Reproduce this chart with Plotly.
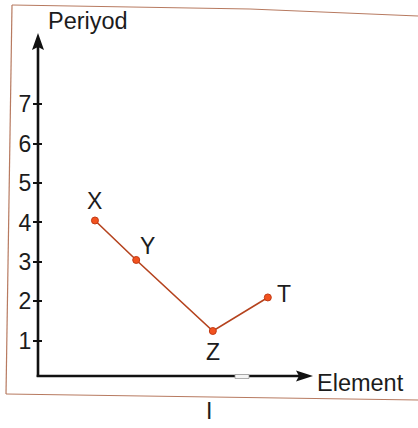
import plotly.graph_objects as go

# ---- data ----
elements = ["X", "Y", "Z", "T"]
element_pos = [1.45, 2.5, 4.45, 5.85]
periods = [4.05, 3.05, 1.25, 2.1]
period_ticks = [1, 2, 3, 4, 5, 6, 7]
label_offsets = [(0, 19), (11, 14), (0, -21), (16, 3)]

W, H = 418, 428
L, R, T, B = 38, 313, 33, 376  # plot area in px


def px(xp, yp):
    return (xp - L) / (R - L), (B - yp) / (B - T)


FONT = "Liberation Sans, Arial, sans-serif"
TXT = "#1c1c1c"

fig = go.Figure()
fig.add_trace(go.Scatter(
    x=element_pos, y=periods, mode="lines+markers",
    line=dict(color="#b5431e", width=1.6),
    marker=dict(size=7, color="#f2521f", line=dict(color="#c23a14", width=1)),
    hoverinfo="skip", showlegend=False,
))

annotations = []
for name, xv, yv, (dx, dy) in zip(elements, element_pos, periods, label_offsets):
    annotations.append(dict(x=xv, y=yv, xref="x", yref="y", text=name, showarrow=False,
                            xshift=dx, yshift=dy, font=dict(family=FONT, size=23, color=TXT)))

def ptxt(text, xp, yp, anchor="center", size=23.5):
    xx, yy = px(xp, yp)
    annotations.append(dict(x=xx, y=yy, xref="paper", yref="paper", text=text, showarrow=False,
                            xanchor=anchor, yanchor="middle",
                            font=dict(family=FONT, size=size, color=TXT)))

ptxt("Periyod", 46, 21, "left")
ptxt("Element", 315, 383, "left")
ptxt("I", 209, 411, size=23)

shapes = []

def line(x0, y0, x1, y1, color, width):
    a = px(x0, y0); b = px(x1, y1)
    shapes.append(dict(type="line", xref="paper", yref="paper", x0=a[0], y0=a[1], x1=b[0], y1=b[1],
                       line=dict(color=color, width=width)))

def poly(pts, fill, lc=None, lw=0):
    p = [px(*q) for q in pts]
    path = "M" + " L".join(f"{a:.5f},{b:.5f}" for a, b in p) + " Z"
    shapes.append(dict(type="path", xref="paper", yref="paper", path=path, fillcolor=fill,
                       line=dict(color=lc or fill, width=lw)))

# frame
border = "#b77a60"
line(12, 5, 250, 9, border, 1.2)
line(250, 9, 418, 16, border, 1.2)
line(12, 5, 6, 394, border, 1.2)
line(6, 394, 418, 400, border, 1.2)

# axes with arrow heads
AX = "#111111"
line(38, 377, 38, 46, AX, 2.6)
poly([(38, 33), (44, 50), (38, 47), (32, 50)], AX)
line(36.7, 376, 300, 376, AX, 2.6)
poly([(313, 376), (296, 370.5), (299, 376), (296, 381.5)], AX)
# small gap mark on x axis
shapes.append(dict(type="rect", xref="paper", yref="paper",
                   x0=px(235, 0)[0], x1=px(249, 0)[0], y0=px(0, 378.5)[1], y1=px(0, 374.5)[1],
                   fillcolor="#f4f4f4", line=dict(color="#9a9a9a", width=0.8)))

fig.update_layout(
    width=W, height=H,
    margin=dict(l=L, r=W - R, t=T, b=H - B),
    paper_bgcolor="white", plot_bgcolor="white",
    xaxis=dict(range=[0, 7], showgrid=False, zeroline=False, showline=False,
               showticklabels=False, ticks=""),
    yaxis=dict(range=[0.11, 8.8], showgrid=False, zeroline=False, showline=False,
               tickmode="array", tickvals=period_ticks, ticktext=[str(v) for v in period_ticks],
               ticks="outside", ticklen=4, tickwidth=1.8, tickcolor=AX, ticklabelstandoff=-3,
               tickfont=dict(family=FONT, size=23, color=TXT)),
    yaxis2=dict(range=[0.11, 8.8], overlaying="y", side="left", showgrid=False, zeroline=False,
                showline=False, tickmode="array", tickvals=period_ticks, showticklabels=False,
                ticks="inside", ticklen=4, tickwidth=1.8, tickcolor=AX),
    shapes=shapes, annotations=annotations,
)
fig.add_trace(go.Scatter(x=[None], y=[None], yaxis="y2", showlegend=False, hoverinfo="skip"))

fig.write_html("out.html", config={"displayModeBar": False},
               post_script="document.body.style.margin='0';")
